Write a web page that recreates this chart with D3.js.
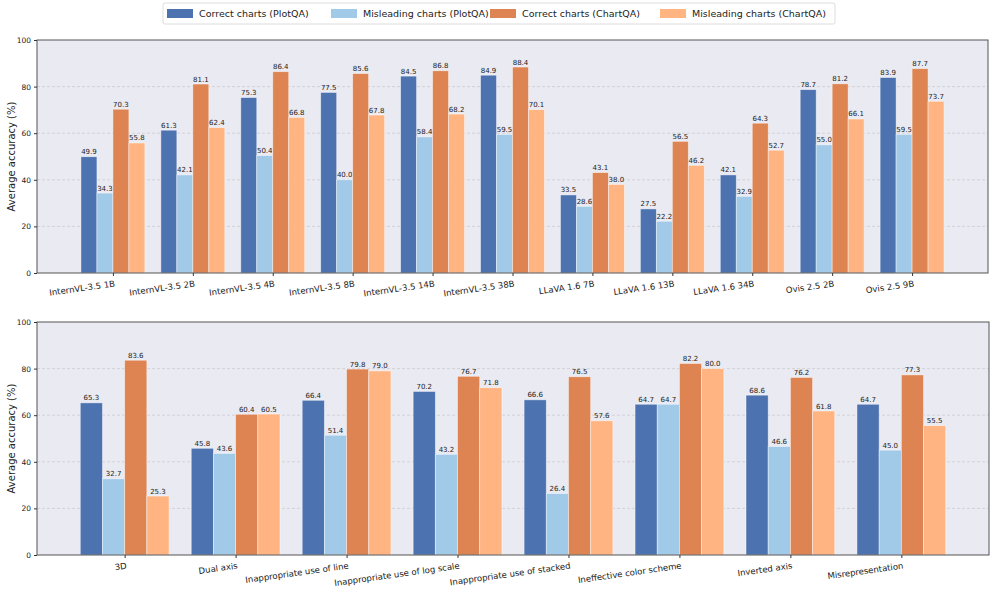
<!DOCTYPE html>
<html>
<head>
<meta charset="utf-8">
<script src="https://cdn.jsdelivr.net/npm/d3@7"></script>
<style>
  body { margin: 0; background: #fff; }
  text { font-family: "DejaVu Sans", sans-serif; }
</style>
</head>
<body>
<svg id="chart" width="996" height="598"></svg>
<script>
// data
const seriesNames = ["Correct charts (PlotQA)", "Misleading charts (PlotQA)", "Correct charts (ChartQA)", "Misleading charts (ChartQA)"];
const colors = ["#4C72B0", "#A1C9E8", "#DD8452", "#FFB482"];

const models = ["InternVL-3.5 1B", "InternVL-3.5 2B", "InternVL-3.5 4B", "InternVL-3.5 8B", "InternVL-3.5 14B", "InternVL-3.5 38B", "LLaVA 1.6 7B", "LLaVA 1.6 13B", "LLaVA 1.6 34B", "Ovis 2.5 2B", "Ovis 2.5 9B"];
const modelPlotCorrect = [49.9, 61.3, 75.3, 77.5, 84.5, 84.9, 33.5, 27.5, 42.1, 78.7, 83.9];
const modelPlotMislead = [34.3, 42.1, 50.4, 40.0, 58.4, 59.5, 28.6, 22.2, 32.9, 55.0, 59.5];
const modelChartCorrect = [70.3, 81.1, 86.4, 85.6, 86.8, 88.4, 43.1, 56.5, 64.3, 81.2, 87.7];
const modelChartMislead = [55.8, 62.4, 66.8, 67.8, 68.2, 70.1, 38.0, 46.2, 52.7, 66.1, 73.7];

const types = ["3D", "Dual axis", "Inappropriate use of line", "Inappropriate use of log scale", "Inappropriate use of stacked", "Ineffective color scheme", "Inverted axis", "Misrepresentation"];
const typePlotCorrect = [65.3, 45.8, 66.4, 70.2, 66.6, 64.7, 68.6, 64.7];
const typePlotMislead = [32.7, 43.6, 51.4, 43.2, 26.4, 64.7, 46.6, 45.0];
const typeChartCorrect = [83.6, 60.4, 79.8, 76.7, 76.5, 82.2, 76.2, 77.3];
const typeChartMislead = [25.3, 60.5, 79.0, 71.8, 57.6, 80.0, 61.8, 55.5];

const yTicks = [0, 20, 40, 60, 80, 100];

const svg = d3.select("#chart");

function drawPanel(cats, series, box, pad) {
    const g = svg.append("g");
    const x = d3.scaleLinear().domain([-pad, cats.length - 1 + pad]).range([box.left, box.right]);
    const y = d3.scaleLinear().domain([0, 100]).range([box.bottom, box.top]);
    const bw = 0.2;

    g.append("rect")
        .attr("x", box.left).attr("y", box.top)
        .attr("width", box.right - box.left).attr("height", box.bottom - box.top)
        .attr("fill", "#EAEAF2");

    // dashed grid
    g.selectAll(".grid")
        .data(yTicks.slice(1, -1))
        .join("line")
        .attr("x1", box.left).attr("x2", box.right)
        .attr("y1", d => y(d)).attr("y2", d => y(d))
        .attr("stroke", "#c8c8cc").attr("stroke-width", 0.7)
        .attr("stroke-dasharray", "3,2");

    series.forEach((vals, si) => {
        const off = (si - 1.5) * bw;
        g.selectAll(".bar" + si)
            .data(vals)
            .join("rect")
            .attr("x", (d, i) => x(i + off - bw / 2))
            .attr("width", x(bw) - x(0))
            .attr("y", d => y(d))
            .attr("height", d => y(0) - y(d))
            .attr("fill", colors[si])
            .attr("stroke", "rgba(255,255,255,0.55)")
            .attr("stroke-width", 0.8);

        g.selectAll(".lab" + si)
            .data(vals)
            .join("text")
            .attr("x", (d, i) => x(i + off))
            .attr("y", d => y(d) - 2.5)
            .attr("text-anchor", "middle")
            .attr("font-size", 7)
            .attr("fill", "#222")
            .text(d => d.toFixed(1));
    });

    // frame
    g.append("rect")
        .attr("x", box.left).attr("y", box.top)
        .attr("width", box.right - box.left).attr("height", box.bottom - box.top)
        .attr("fill", "none").attr("stroke", "#555").attr("stroke-width", 1);

    // y axis
    const ya = g.append("g")
        .attr("transform", `translate(${box.left},0)`)
        .call(d3.axisLeft(y).tickValues(yTicks).tickSize(3).tickPadding(3));
    ya.select(".domain").remove();
    ya.selectAll("line").attr("stroke", "#333");
    ya.selectAll("text").attr("font-size", 7.5).attr("fill", "#222").attr("font-family", "DejaVu Sans");

    // x axis
    const xa = g.append("g")
        .attr("transform", `translate(0,${box.bottom})`)
        .call(d3.axisBottom(x).tickValues(d3.range(cats.length)).tickSize(3).tickFormat(""));
    xa.select(".domain").remove();
    xa.selectAll("line").attr("stroke", "#333");

    g.selectAll(".xl")
        .data(cats)
        .join("text")
        .attr("transform", (d, i) => `translate(${x(i) + 2},${box.bottom + 11}) rotate(-8)`)
        .attr("text-anchor", "end")
        .attr("dominant-baseline", "middle")
        .attr("font-size", 8.5)
        .attr("fill", "#222")
        .text(d => d);

    g.append("text")
        .attr("transform", `translate(15,${(box.top + box.bottom) / 2}) rotate(-90)`)
        .attr("text-anchor", "middle")
        .attr("font-size", 10)
        .attr("fill", "#222")
        .text("Average accuracy (%)");
}

drawPanel(models, [modelPlotCorrect, modelPlotMislead, modelChartCorrect, modelChartMislead],
    { left: 37, right: 988, top: 40, bottom: 273 }, 0.95);
drawPanel(types, [typePlotCorrect, typePlotMislead, typeChartCorrect, typeChartMislead],
    { left: 37, right: 989, top: 322, bottom: 555 }, 0.79);

// legend
const lg = svg.append("g");
lg.append("rect")
    .attr("x", 163).attr("y", 3).attr("width", 672).attr("height", 21)
    .attr("fill", "#fff").attr("stroke", "#ddd").attr("rx", 2);
const legX = [167, 331, 490, 660];
seriesNames.forEach((n, i) => {
    lg.append("rect").attr("x", legX[i]).attr("y", 9).attr("width", 26).attr("height", 9).attr("fill", colors[i]);
    lg.append("text").attr("x", legX[i] + 32).attr("y", 17).attr("font-size", 9.5).attr("fill", "#222").text(n);
});
</script>
</body>
</html>
